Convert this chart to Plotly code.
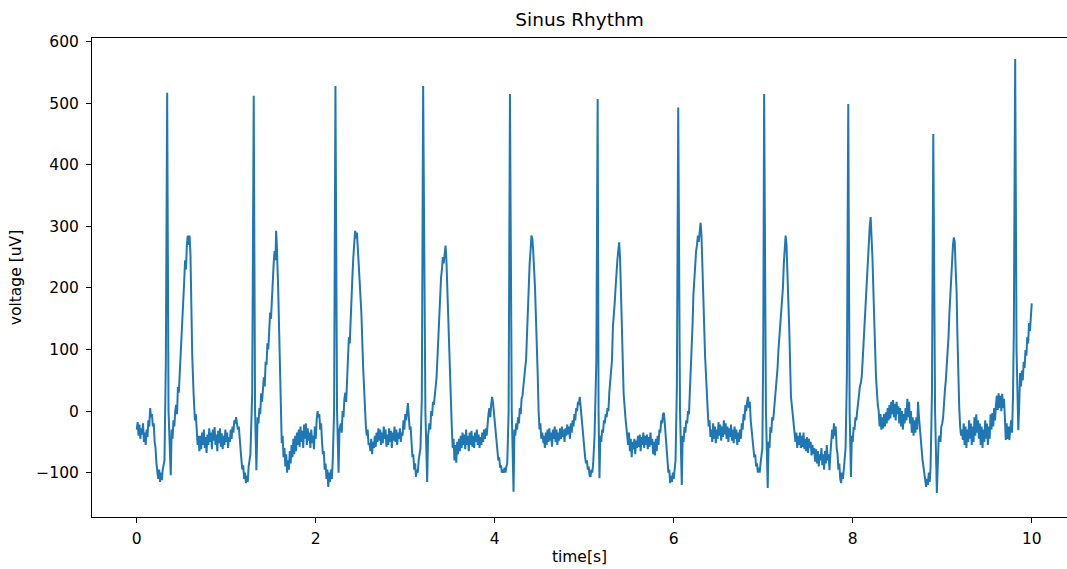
"""Sinus rhythm ECG trace"""

import plotly.graph_objects as go

# ECG samples, as [time s, voltage uV] pairs, one list per beat
beat_01 = [
    [0.00, -30], [0.01, -18], [0.02, -40], [0.03, -22], [0.04, -45], [0.05, -28],
    [0.06, -38], [0.07, -20], [0.08, -50], [0.09, -35], [0.10, -55], [0.11, -30],
    [0.12, -42], [0.13, -15], [0.14, -25], [0.15, 5], [0.16, -10], [0.17, -5],
    [0.18, -25], [0.19, -20], [0.20, -50], [0.21, -60], [0.22, -85], [0.23, -100],
    [0.24, -110], [0.25, -95], [0.26, -115], [0.27, -100], [0.28, -112], [0.29, -95],
    [0.31, -80], [0.325, 80], [0.34, 517], [0.355, 0], [0.38, -104], [0.39, -30],
    [0.40, -45], [0.41, -15], [0.42, -25], [0.43, 0], [0.44, 10], [0.45, -5],
    [0.46, 39], [0.47, 30], [0.48, 60], [0.49, 75], [0.50, 110], [0.51, 130],
    [0.52, 169], [0.53, 210], [0.54, 245], [0.55, 230], [0.56, 270], [0.57, 285],
    [0.58, 270], [0.59, 285], [0.60, 255], [0.61, 170], [0.62, 90], [0.635, 29],
    [0.65, -15], [0.66, -5], [0.67, -45], [0.68, -55], [0.69, -40], [0.70, -65],
    [0.71, -40], [0.72, -62], [0.73, -35], [0.74, -55], [0.75, -30], [0.76, -60],
    [0.77, -42], [0.78, -68], [0.79, -38], [0.80, -55], [0.81, -28], [0.82, -50],
    [0.83, -35], [0.84, -62], [0.85, -30], [0.86, -48], [0.87, -26], [0.88, -55],
    [0.89, -38], [0.90, -65], [0.91, -32], [0.92, -52], [0.93, -28], [0.94, -58],
    [0.95, -36], [0.96, -62], [0.97, -40], [0.98, -55], [0.99, -30],
]
beat_02 = [
    [1.00, -50], [1.01, -35], [1.02, -60], [1.03, -42], [1.04, -50], [1.05, -30],
    [1.06, -45], [1.07, -25], [1.08, -35], [1.09, -15], [1.10, -20], [1.11, -10],
    [1.12, -18], [1.13, -30], [1.14, -25], [1.15, -50], [1.16, -60], [1.17, -80],
    [1.18, -95], [1.19, -88], [1.20, -110], [1.21, -100], [1.22, -117], [1.23, -105],
    [1.24, -115], [1.25, -90], [1.27, -70], [1.29, 30], [1.307, 512], [1.322, 0],
    [1.337, -96], [1.35, -10], [1.36, -20], [1.37, 5], [1.38, -5], [1.39, 29],
    [1.40, 15], [1.41, 45], [1.42, 55], [1.43, 40], [1.44, 80], [1.45, 75],
    [1.46, 110], [1.47, 100], [1.48, 135], [1.49, 160], [1.50, 150], [1.51, 190],
    [1.52, 210], [1.53, 240], [1.54, 260], [1.55, 245], [1.557, 293], [1.565, 270],
    [1.58, 200], [1.594, 104], [1.605, 30], [1.62, -52], [1.63, -40], [1.64, -75],
    [1.65, -60], [1.66, -90], [1.67, -70], [1.68, -100], [1.69, -80], [1.70, -95],
    [1.71, -65], [1.72, -85], [1.73, -55], [1.74, -75], [1.75, -45], [1.76, -70],
    [1.77, -40], [1.78, -65], [1.79, -35], [1.80, -55], [1.81, -30], [1.82, -58],
    [1.83, -25], [1.84, -50], [1.85, -32], [1.86, -60], [1.87, -22], [1.88, -45],
    [1.89, -20], [1.90, -55], [1.91, -28], [1.92, -48], [1.93, -35], [1.94, -60],
    [1.95, -30], [1.96, -52], [1.97, -40], [1.98, -62], [1.99, -25],
]
beat_03 = [
    [2.00, -45], [2.01, -15], [2.02, 0], [2.03, -10], [2.04, -5], [2.05, -30],
    [2.06, -20], [2.07, -50], [2.08, -70], [2.09, -65], [2.10, -95], [2.11, -85],
    [2.12, -110], [2.13, -95], [2.14, -123], [2.15, -100], [2.16, -115], [2.17, -95],
    [2.18, -110], [2.19, -80], [2.205, 0], [2.22, 528], [2.238, 0], [2.255, -100],
    [2.265, -30], [2.28, -20], [2.29, -35], [2.30, 0], [2.31, -10], [2.32, 20],
    [2.33, 30], [2.34, 15], [2.35, 55], [2.36, 80], [2.37, 120], [2.38, 110],
    [2.39, 160], [2.40, 190], [2.41, 220], [2.42, 250], [2.43, 270], [2.44, 293],
    [2.45, 280], [2.46, 290], [2.47, 265], [2.49, 210], [2.51, 159], [2.53, 70],
    [2.55, 0], [2.56, -25], [2.57, -40], [2.58, -30], [2.59, -55], [2.60, -52],
    [2.61, -65], [2.62, -45], [2.63, -70], [2.64, -50], [2.65, -60], [2.66, -40],
    [2.67, -58], [2.68, -35], [2.69, -50], [2.70, -28], [2.71, -48], [2.72, -30],
    [2.73, -55], [2.74, -35], [2.75, -52], [2.76, -25], [2.77, -45], [2.78, -30],
    [2.79, -58], [2.80, -38], [2.81, -55], [2.82, -28], [2.83, -50], [2.84, -32],
    [2.85, -60], [2.86, -35], [2.87, -48], [2.88, -25], [2.89, -50], [2.90, -30],
    [2.91, -55], [2.92, -35], [2.93, -45], [2.94, -28], [2.95, -50], [2.96, -35],
    [2.97, -40], [2.98, -15], [2.99, -30],
]
beat_04 = [
    [3.00, -5], [3.01, -15], [3.02, 8], [3.03, 13], [3.04, -10], [3.05, -30],
    [3.06, -25], [3.07, -60], [3.08, -75], [3.09, -70], [3.10, -95], [3.11, -85],
    [3.12, -107], [3.13, -95], [3.14, -100], [3.15, -80], [3.17, -60], [3.185, 20],
    [3.20, 528], [3.225, 0], [3.245, -115], [3.255, -40], [3.27, -20], [3.28, -30],
    [3.29, 0], [3.30, -8], [3.31, 15], [3.32, 10], [3.33, 35], [3.34, 40],
    [3.35, 55], [3.36, 90], [3.37, 136], [3.38, 160], [3.39, 190], [3.40, 217],
    [3.41, 230], [3.42, 250], [3.43, 240], [3.44, 265], [3.45, 269], [3.46, 245],
    [3.48, 150], [3.50, 39], [3.52, -26], [3.53, -60], [3.54, -45], [3.55, -80],
    [3.56, -55], [3.57, -84], [3.58, -50], [3.59, -70], [3.60, -45], [3.61, -65],
    [3.62, -40], [3.63, -60], [3.64, -35], [3.65, -55], [3.66, -38], [3.67, -62],
    [3.68, -30], [3.69, -55], [3.70, -40], [3.71, -65], [3.72, -35], [3.73, -55],
    [3.74, -32], [3.75, -58], [3.76, -40], [3.77, -60], [3.78, -35], [3.79, -50],
    [3.80, -30], [3.81, -55], [3.82, -38], [3.83, -60], [3.84, -42], [3.85, -55],
    [3.86, -35], [3.87, -50], [3.88, -30], [3.89, -45], [3.90, -28], [3.91, -40],
    [3.92, -15], [3.93, -5], [3.94, 5], [3.95, -10], [3.96, 10], [3.97, 23],
    [3.98, 15], [3.99, 0],
]
beat_05 = [
    [4.00, -20], [4.01, -35], [4.02, -55], [4.03, -65], [4.04, -80], [4.05, -75],
    [4.06, -92], [4.07, -88], [4.08, -100], [4.09, -95], [4.10, -100], [4.11, -92],
    [4.12, -100], [4.13, -90], [4.14, -85], [4.155, 0], [4.17, 515], [4.19, 0],
    [4.21, -131], [4.22, -30], [4.23, -40], [4.24, -20], [4.25, -30], [4.26, -10],
    [4.27, -20], [4.28, 5], [4.29, -5], [4.30, 20], [4.31, 25], [4.32, 40],
    [4.33, 60], [4.34, 70], [4.35, 83], [4.36, 130], [4.37, 165], [4.38, 201],
    [4.39, 240], [4.40, 260], [4.41, 285], [4.42, 280], [4.43, 260], [4.45, 200],
    [4.46, 159], [4.48, 60], [4.49, 0], [4.50, -30], [4.51, -20], [4.52, -45],
    [4.53, -35], [4.545, -52], [4.55, -40], [4.56, -60], [4.57, -35], [4.58, -55],
    [4.59, -30], [4.60, -50], [4.61, -28], [4.62, -48], [4.63, -35], [4.64, -58],
    [4.65, -30], [4.66, -45], [4.67, -25], [4.68, -50], [4.69, -30], [4.70, -55],
    [4.71, -35], [4.72, -48], [4.73, -28], [4.74, -45], [4.75, -25], [4.76, -42],
    [4.77, -30], [4.78, -50], [4.79, -28], [4.80, -40], [4.81, -22], [4.82, -38],
    [4.83, -25], [4.84, -45], [4.85, -20], [4.86, -35], [4.87, -15], [4.88, -25],
    [4.89, -5], [4.90, -15], [4.91, 5], [4.92, 0], [4.93, 15], [4.94, 10],
    [4.95, 23], [4.96, 5], [4.97, -5], [4.98, -30], [4.99, -45],
]
beat_06 = [
    [5.00, -60], [5.01, -75], [5.02, -85], [5.03, -80], [5.04, -95], [5.05, -90],
    [5.06, -105], [5.07, -107], [5.08, -95], [5.09, -100], [5.10, -85], [5.115, -40],
    [5.135, 80], [5.15, 507], [5.16, 0], [5.17, -109], [5.18, -40], [5.19, -50],
    [5.20, -30], [5.21, -35], [5.22, -15], [5.23, -20], [5.24, -5], [5.25, -10],
    [5.26, 5], [5.27, 0], [5.28, 30], [5.29, 45], [5.30, 70], [5.31, 83],
    [5.32, 136], [5.33, 150], [5.34, 175], [5.35, 200], [5.36, 228], [5.37, 245],
    [5.38, 260], [5.39, 274], [5.40, 250], [5.41, 190], [5.43, 80], [5.44, 29],
    [5.46, -10], [5.48, -42], [5.49, -55], [5.50, -35], [5.51, -65], [5.52, -45],
    [5.53, -75], [5.54, -50], [5.55, -62], [5.56, -45], [5.57, -70], [5.58, -48],
    [5.59, -60], [5.60, -40], [5.61, -58], [5.62, -38], [5.63, -65], [5.64, -42],
    [5.65, -55], [5.66, -35], [5.67, -60], [5.68, -40], [5.69, -55], [5.70, -38],
    [5.71, -62], [5.72, -42], [5.73, -58], [5.74, -35], [5.75, -55], [5.76, -45],
    [5.77, -70], [5.78, -50], [5.79, -72], [5.80, -45], [5.81, -65], [5.82, -40],
    [5.83, -55], [5.84, -30], [5.85, -35], [5.86, -15], [5.87, -20], [5.88, -5],
    [5.89, -3], [5.90, -20], [5.91, -40], [5.92, -55], [5.93, -80], [5.94, -100],
    [5.95, -95], [5.96, -117], [5.97, -105], [5.98, -115], [5.99, -100],
]
beat_07 = [
    [6.00, -110], [6.02, -80], [6.035, 40], [6.05, 493], [6.07, 0], [6.09, -120],
    [6.10, -40], [6.11, -50], [6.12, -26], [6.13, -35], [6.14, -15], [6.15, -20],
    [6.16, 0], [6.17, -5], [6.18, 30], [6.19, 50], [6.20, 83], [6.21, 140],
    [6.22, 190], [6.23, 220], [6.24, 240], [6.25, 260], [6.26, 270], [6.27, 285],
    [6.28, 275], [6.29, 300], [6.30, 306], [6.31, 285], [6.32, 230], [6.33, 180],
    [6.35, 90], [6.38, 0], [6.39, -25], [6.40, -15], [6.41, -42], [6.42, -30],
    [6.43, -50], [6.44, -20], [6.45, -45], [6.46, -25], [6.47, -52], [6.48, -30],
    [6.49, -45], [6.50, -18], [6.51, -40], [6.52, -22], [6.53, -48], [6.54, -25],
    [6.55, -42], [6.56, -15], [6.57, -38], [6.58, -20], [6.59, -45], [6.60, -25],
    [6.61, -50], [6.62, -28], [6.63, -42], [6.64, -22], [6.65, -48], [6.66, -30],
    [6.67, -52], [6.68, -25], [6.69, -45], [6.70, -30], [6.71, -55], [6.72, -35],
    [6.73, -50], [6.74, -30], [6.75, -45], [6.76, -20], [6.77, -30], [6.78, -5],
    [6.79, -15], [6.80, 10], [6.81, 0], [6.82, 15], [6.83, 23], [6.84, 5],
    [6.85, 15], [6.86, -15], [6.87, -30], [6.88, -45], [6.89, -60], [6.90, -75],
    [6.91, -70], [6.92, -90], [6.93, -85], [6.94, -100], [6.95, -92], [6.96, -100],
    [6.97, -85], [6.99, -60],
]
beat_08 = [
    [7.00, 100], [7.01, 515], [7.03, 0], [7.05, -125], [7.06, -50], [7.07, -60],
    [7.08, -26], [7.09, -35], [7.10, -10], [7.11, -15], [7.12, 0], [7.13, 15],
    [7.14, 30], [7.15, 55], [7.16, 70], [7.17, 100], [7.18, 120], [7.19, 140],
    [7.20, 150], [7.21, 164], [7.22, 200], [7.23, 240], [7.24, 265], [7.25, 285],
    [7.26, 270], [7.27, 210], [7.29, 136], [7.31, 23], [7.33, -10], [7.35, -31],
    [7.36, -50], [7.37, -35], [7.38, -60], [7.39, -40], [7.40, -55], [7.41, -35],
    [7.42, -60], [7.43, -40], [7.44, -58], [7.45, -35], [7.46, -62], [7.47, -45],
    [7.48, -65], [7.49, -42], [7.50, -68], [7.51, -45], [7.52, -60], [7.53, -50],
    [7.54, -72], [7.55, -55], [7.56, -70], [7.57, -60], [7.58, -82], [7.59, -62],
    [7.60, -85], [7.61, -65], [7.62, -90], [7.63, -70], [7.64, -80], [7.65, -60],
    [7.66, -88], [7.67, -70], [7.68, -95], [7.69, -65], [7.70, -85], [7.71, -55],
    [7.72, -80], [7.73, -70], [7.74, -96], [7.75, -70], [7.76, -50], [7.77, -30],
    [7.78, -45], [7.79, -20], [7.80, -40], [7.81, -25], [7.82, -60], [7.83, -70],
    [7.84, -95], [7.85, -85], [7.86, -110], [7.87, -117], [7.88, -100], [7.89, -110],
    [7.90, -95], [7.92, -60], [7.935, 60], [7.95, 499], [7.965, 0], [7.98, -107],
    [7.99, -40],
]
beat_09 = [
    [8.00, -50], [8.01, -26], [8.02, -30], [8.03, -10], [8.04, -15], [8.05, 0],
    [8.06, 15], [8.07, 30], [8.08, 40], [8.09, 45], [8.10, 55], [8.11, 80],
    [8.12, 110], [8.13, 136], [8.14, 160], [8.15, 190], [8.16, 217], [8.17, 240],
    [8.18, 280], [8.19, 300], [8.20, 315], [8.21, 290], [8.22, 250], [8.24, 150],
    [8.26, 55], [8.28, 10], [8.29, 0], [8.30, -25], [8.31, -5], [8.32, -30],
    [8.33, -10], [8.34, -28], [8.35, -5], [8.36, -25], [8.37, -2], [8.38, -20],
    [8.39, 5], [8.40, -15], [8.41, 10], [8.42, -12], [8.43, 15], [8.44, -5],
    [8.45, 18], [8.46, -10], [8.47, 12], [8.48, -15], [8.49, 15], [8.50, -5],
    [8.51, 8], [8.52, -20], [8.53, 5], [8.54, -25], [8.55, 0], [8.56, -30],
    [8.57, -5], [8.58, -20], [8.59, 5], [8.60, -15], [8.61, 20], [8.62, -10],
    [8.63, 15], [8.64, -20], [8.65, 0], [8.66, -35], [8.67, -10], [8.68, -40],
    [8.69, -15], [8.70, -35], [8.71, -10], [8.72, -30], [8.73, 15], [8.74, -10],
    [8.75, -30], [8.76, -45], [8.77, -55], [8.78, -80], [8.79, -90], [8.80, -105],
    [8.81, -110], [8.82, -123], [8.83, -110], [8.84, -120], [8.85, -100], [8.86, -115],
    [8.87, -90], [8.885, 30], [8.90, 450], [8.92, 0], [8.94, -133], [8.95, -60],
    [8.96, -45], [8.97, -40], [8.98, -50], [8.99, -25],
]
beat_10 = [
    [9.00, -20], [9.01, -10], [9.02, 20], [9.03, 34], [9.04, 50], [9.05, 70],
    [9.06, 88], [9.07, 120], [9.08, 159], [9.09, 190], [9.10, 223], [9.11, 250],
    [9.12, 270], [9.13, 282], [9.14, 275], [9.15, 230], [9.16, 196], [9.17, 120],
    [9.18, 50], [9.19, 6], [9.20, -25], [9.21, -40], [9.22, -30], [9.23, -47],
    [9.24, -20], [9.25, -55], [9.26, -25], [9.27, -60], [9.28, -30], [9.29, -50],
    [9.30, -15], [9.31, -45], [9.32, -20], [9.33, -55], [9.34, -25], [9.35, -50],
    [9.36, -10], [9.37, -40], [9.38, -5], [9.39, -35], [9.40, -15], [9.41, -45],
    [9.42, -20], [9.43, -55], [9.44, -25], [9.45, -60], [9.46, -30], [9.47, -50],
    [9.48, -15], [9.49, -45], [9.50, -20], [9.51, -55], [9.52, -25], [9.53, -45],
    [9.54, -5], [9.55, -30], [9.56, -3], [9.57, -25], [9.58, 5], [9.59, -15],
    [9.60, 10], [9.61, 25], [9.62, 2], [9.63, 29], [9.64, 5], [9.65, 25],
    [9.66, 0], [9.67, 28], [9.68, 5], [9.69, 20], [9.70, -10], [9.71, -47],
    [9.72, -20], [9.73, -45], [9.74, -25], [9.75, -47], [9.76, -30], [9.77, -15],
    [9.78, -35], [9.79, 20], [9.80, 131], [9.815, 572], [9.83, 100], [9.85, -31],
    [9.86, 10], [9.87, 62], [9.88, 40], [9.89, 66], [9.90, 50], [9.91, 80],
    [9.92, 70], [9.93, 99], [9.94, 90], [9.95, 120], [9.96, 110], [9.97, 143],
    [9.98, 130], [9.99, 160], [10.00, 175],
]

beats = [beat_01, beat_02, beat_03, beat_04, beat_05,
         beat_06, beat_07, beat_08, beat_09, beat_10]
time_s = [p[0] for b in beats for p in b]
voltage_uv = [p[1] for b in beats for p in b]

x_ticks = [0, 2, 4, 6, 8, 10]
y_ticks = [-100, 0, 100, 200, 300, 400, 500, 600]
y_tick_text = ["\u2212100", "0", "100", "200", "300", "400", "500", "600"]

fig = go.Figure(go.Scatter(
    x=time_s, y=voltage_uv, mode="lines",
    line=dict(color="#1f77b4", width=2),
))

axis_font = dict(family="DejaVu Sans", size=15.5, color="black")
fig.update_layout(
    width=1067, height=569,
    paper_bgcolor="white", plot_bgcolor="white",
    margin=dict(l=92, r=0, t=38, b=52),
    showlegend=False,
    font=axis_font,
    title=dict(text="Sinus Rhythm", x=0.5, xref="paper", xanchor="center",
               y=1 - 20 / 569, yanchor="middle",
               font=dict(family="DejaVu Sans", size=18.5, color="black")),
)
fig.update_xaxes(
    range=[-0.5, 10.394], tickvals=x_ticks, showgrid=False, zeroline=False,
    showline=True, linecolor="black", linewidth=1, mirror=True,
    ticks="outside", ticklen=5, tickcolor="black", ticklabelstandoff=2,
    title=dict(text="time[s]", standoff=4, font=axis_font),
)
fig.update_yaxes(
    range=[-172, 606], tickvals=y_ticks, ticktext=y_tick_text,
    showgrid=False, zeroline=False,
    showline=True, linecolor="black", linewidth=1,
    ticks="outside", ticklen=5, tickcolor="black", ticklabelstandoff=4,
    title=dict(text="voltage [uV]", standoff=10, font=axis_font),
)

# page has a default 8px body margin; drop it so the figure fills the window
fig.write_html("out.html",
               config={"displayModeBar": False},
               post_script="document.body.style.margin='0';"
                           "document.body.style.overflow='hidden';")
